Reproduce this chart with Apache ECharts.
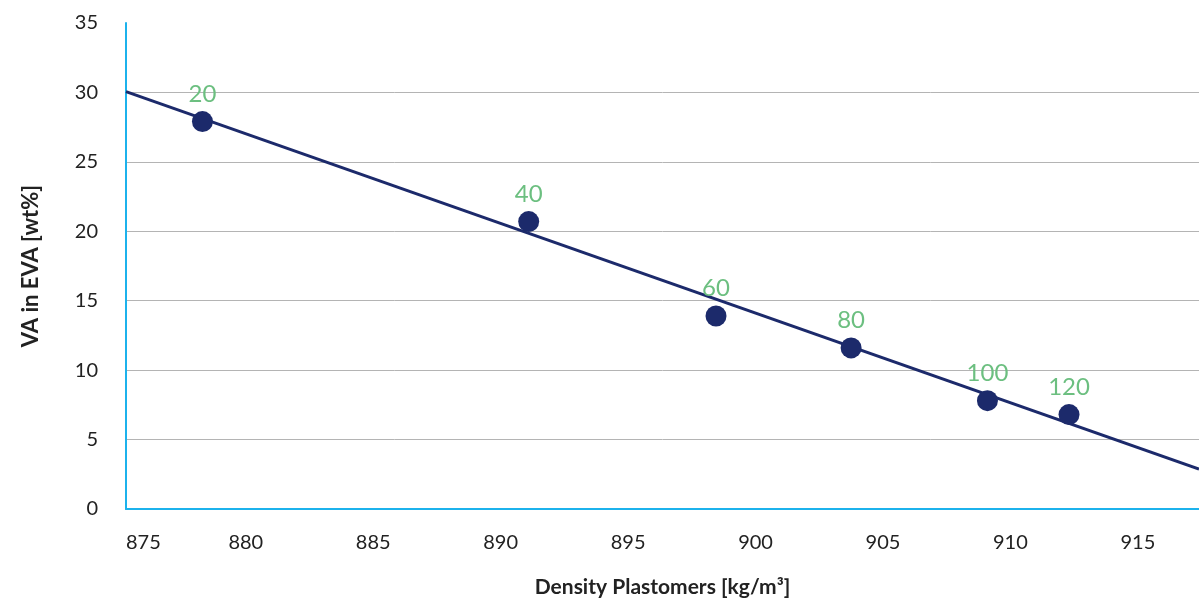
<!DOCTYPE html>
<html>
<head>
<meta charset="utf-8">
<title>VA in EVA vs density</title>
<script src="https://cdn.jsdelivr.net/npm/echarts@6/dist/echarts.min.js"></script>
<style>
  html, body { margin: 0; padding: 0; background: #ffffff; }
  #chart { width: 1199px; height: 603px; }
</style>
</head>
<body>
<div id="chart"></div>
<script>
// measured points: density, VA content, label
const densities = [878.3, 891.1, 898.45, 903.75, 909.1, 912.3]
const vaContent = [27.9, 20.7, 13.9, 11.6, 7.8, 6.8]
const pointLabels = ['20', '40', '60', '80', '100', '120']
// trend line end points
const trendX = [875.3, 917.4]
const trendY = [30.06, 2.88]

const font = 'Lato, "Noto Sans", sans-serif'
const navy = '#1c2a6b'
const gridColor = '#b4b4b4'

const chart = echarts.init(document.getElementById('chart'))
chart.setOption({
  animation: false,
  textStyle: { fontFamily: font },
  grid: { left: 126, right: 0, top: 23, bottom: 94 },
  xAxis: {
    type: 'value',
    min: 875.3,
    max: 917.4,
    splitNumber: 8,
    name: 'Density Plastomers [kg/m³]',
    nameLocation: 'middle',
    nameGap: 68,
    nameTextStyle: { color: '#222', fontSize: 21, fontWeight: 'bold', fontFamily: font },
    axisLine: { lineStyle: { color: '#1cb2ec', width: 2 } },
    axisTick: { show: false },
    axisLabel: {
      color: '#222',
      fontSize: 20,
      margin: 24,
      showMinLabel: true,
      showMaxLabel: false,
      alignMinLabel: 'left',
      formatter: v => (v > 916 ? '' : String(Math.round(v / 5) * 5))
    },
    splitLine: { show: false }
  },
  yAxis: {
    type: 'value',
    min: 0,
    max: 35,
    interval: 5,
    name: 'VA in EVA [wt%]',
    nameLocation: 'middle',
    nameGap: 84,
    nameTextStyle: { color: '#222', fontSize: 22, fontWeight: 'bold', fontFamily: font },
    axisLine: { show: true, lineStyle: { color: '#1cb2ec', width: 2 } },
    axisTick: { show: false },
    axisLabel: { color: '#222', fontSize: 20, margin: 28 },
    splitLine: {
      show: true,
      lineStyle: {
        color: [gridColor, gridColor, gridColor, gridColor, gridColor, gridColor, gridColor, 'rgba(0,0,0,0)'],
        width: 1
      }
    }
  },
  series: [
    {
      name: 'trend',
      type: 'line',
      data: trendX.map((x, i) => [x, trendY[i]]),
      symbol: 'none',
      lineStyle: { color: navy, width: 3 },
      z: 2
    },
    {
      name: 'points',
      type: 'scatter',
      data: densities.map((x, i) => ({ value: [x, vaContent[i]], name: pointLabels[i] })),
      symbolSize: 21,
      itemStyle: { color: navy, opacity: 1 },
      label: {
        show: true,
        position: 'top',
        distance: 5,
        formatter: p => p.name,
        color: '#6cbf80',
        fontSize: 24,
        fontFamily: font
      },
      z: 3
    }
  ]
})
</script>
</body>
</html>
